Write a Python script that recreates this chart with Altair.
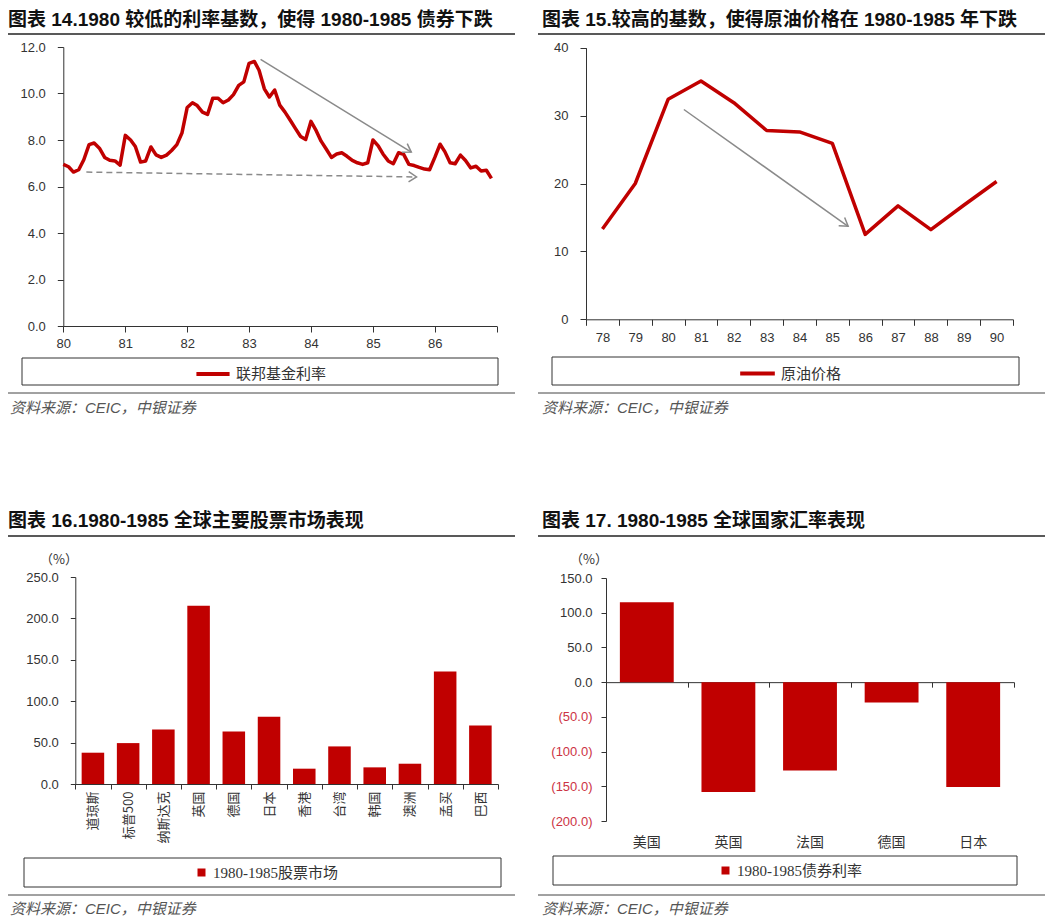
import altair as alt
import pandas as pd

RED = "#c00000"
NEG = "#cc3344"
GRAY = "#8a8a8a"
TXT = "#333333"
SANS = "Liberation Sans, Arial, Noto Sans CJK SC, sans-serif"
CJK = "Noto Sans CJK SC"
SERIF = "Liberation Serif, Noto Sans CJK SC"

# ---------------- data ----------------
fed_months = pd.date_range("1980-01-01", periods=84, freq="MS").strftime("%Y-%m-%d").tolist()
fed_rate = [6.95, 6.85, 6.62, 6.72, 7.15, 7.8, 7.87, 7.65, 7.25, 7.13, 7.1, 6.92,
            8.2, 8.0, 7.72, 7.05, 7.1, 7.7, 7.36, 7.25, 7.35, 7.55, 7.8, 8.3,
            9.4, 9.6, 9.48, 9.2, 9.1, 9.8, 9.8, 9.6, 9.72, 9.95, 10.35, 10.5,
            11.3, 11.38, 11.0, 10.2, 9.85, 10.15, 9.5, 9.2, 8.85, 8.5, 8.15, 8.02,
            8.8, 8.4, 7.95, 7.6, 7.25, 7.4, 7.45, 7.3, 7.12, 7.02, 6.95, 7.02,
            8.0, 7.75, 7.4, 7.1, 6.98, 7.45, 7.38, 6.95, 6.9, 6.82, 6.75, 6.72,
            7.25, 7.82, 7.5, 7.02, 6.98, 7.35, 7.12, 6.8, 6.87, 6.67, 6.7, 6.35]
fed_name = "联邦基金利率"
fed_tick_years = [1980, 1981, 1982, 1983, 1984, 1985, 1986, 1987]
fed_y_ticks = [0, 2, 4, 6, 8, 10, 12]
fed_arrow1_dates = ["1983-03-10", "1985-08-15"]
fed_arrow1_vals = [11.47, 7.48]
fed_arrow2_dates = ["1980-05-16", "1985-09-15"]
fed_arrow2_vals = [6.62, 6.41]

oil_years = ["78", "79", "80", "81", "82", "83", "84", "85", "86", "87", "88", "89", "90"]
oil_price = [13.3, 20.0, 32.4, 35.1, 31.9, 27.8, 27.6, 25.9, 12.5, 16.7, 13.2, 16.8, 20.3]
oil_name = "原油价格"
oil_y_ticks = [0, 10, 20, 30, 40]
oil_arrow_pos = [80.48, 85.48]
oil_arrow_vals = [30.9, 13.7]

stock_markets = ["道琼斯", "标普500", "纳斯达克", "英国", "德国", "日本", "香港", "台湾", "韩国", "澳洲", "孟买", "巴西"]
stock_returns = [37.8, 49.4, 65.9, 215.4, 63.5, 81.2, 18.5, 45.4, 20.1, 24.5, 135.9, 70.7]
stock_name = "1980-1985股票市场"
stock_y_ticks = [0, 50, 100, 150, 200, 250]

fx_countries = ["美国", "英国", "法国", "德国", "日本"]
fx_changes = [115.2, -158.4, -127.2, -29.3, -151.2]
fx_name = "1980-1985债券利率"
fx_y_ticks = [-200, -150, -100, -50, 0, 50, 100, 150]

titles = ["图表 14.1980 较低的利率基数，使得 1980-1985 债券下跌",
          "图表 15.较高的基数，使得原油价格在 1980-1985 年下跌",
          "图表 16.1980-1985 全球主要股票市场表现",
          "图表 17. 1980-1985 全球国家汇率表现"]
source_text = "资料来源：CEIC，中银证券"
unit_text = "（%）"

# ---------------- layout helpers ----------------
W, H = 1040, 912
DX, DY = 3, 6


def px(v):
    return v - DX


def py(v):
    return v - DY


def boff(yref):
    return py(yref) - H


def loff(xref):
    return -px(xref)


ONE = pd.DataFrame({"k": [0]})
CHEV = "M-1,-0.65L0,0L-1,0.65"


def text(t, x, y, size, weight="normal", style="normal", color=TXT, font=SANS):
    return alt.Chart(ONE).mark_text(text=t, align="left", baseline="middle", fontSize=size,
                                    fontWeight=weight, fontStyle=style, color=color,
                                    font=font).encode(x=alt.value(px(x)), y=alt.value(py(y)))


def hline(x1, x2, y, width=1.0, color="#333333"):
    return alt.Chart(ONE).mark_rule(color=color, strokeWidth=width).encode(
        x=alt.value(px(x1)), x2=alt.value(px(x2)), y=alt.value(py(y)))


def box(x1, x2, y1, y2):
    return alt.Chart(ONE).mark_rect(fill="white", fillOpacity=0, stroke="#333333", strokeWidth=1).encode(
        x=alt.value(px(x1)), x2=alt.value(px(x2)), y=alt.value(py(y1)), y2=alt.value(py(y2)))


def dt(y, m=1, d=1):
    return alt.DateTime(year=y, month=m, date=d, utc=True)


layers = []

# ---------------- panel 1: fed funds ----------------
fed_df = pd.DataFrame({"date": fed_months, "rate": fed_rate, "series": fed_name})
fed_x = alt.Scale(type="utc", domain=[dt(1980), dt(1987)], range=[px(58.3), px(491.7)], nice=False)
fed_y = alt.Scale(domain=[0, 12], range=[py(324), py(45)], nice=False, zero=False)

layers.append(alt.Chart(fed_df).mark_line(strokeWidth=3.5, strokeJoin="round").encode(
    x=alt.X("date:T", scale=fed_x, axis=alt.Axis(
        orient="bottom", offset=boff(324), values=[dt(y) for y in fed_tick_years],
        labelExpr="utcyear(datum.value) >= 1987 ? '' : utcFormat(datum.value, '%y')",
        tickSize=6, labelPadding=5, title=None, labelFlush=False, labelOverlap=False)),
    y=alt.Y("rate:Q", scale=fed_y, axis=alt.Axis(
        orient="left", offset=loff(58.3), values=fed_y_ticks, format=".1f",
        tickSize=6, labelPadding=12, title=None)),
    color=alt.Color("series:N", scale=alt.Scale(range=[RED]), legend=alt.Legend(
        orient="none", legendX=px(189), legendY=py(353), title=None, symbolType="stroke",
        symbolSize=1100, symbolStrokeWidth=4, labelFont=SERIF, labelFontSize=15,
        labelColor=TXT, padding=0, labelOffset=4))))

a1 = pd.DataFrame({"date": fed_arrow1_dates, "v": fed_arrow1_vals})
a2 = pd.DataFrame({"date": fed_arrow2_dates, "v": fed_arrow2_vals})
for df, dash, ang in [(a1, None, 31.6), (a2, [6, 4], 0.9)]:
    kw = dict(color=GRAY, strokeWidth=1.5)
    if dash:
        kw["strokeDash"] = dash
    enc = dict(x=alt.X("date:T", scale=fed_x, axis=None), y=alt.Y("v:Q", scale=fed_y, axis=None))
    layers.append(alt.Chart(df).mark_line(**kw).encode(**enc))
    layers.append(alt.Chart(df.iloc[[1]]).mark_point(shape=CHEV, filled=False, size=250, strokeWidth=1.5,
                                                      color=GRAY, opacity=1, angle=ang).encode(**enc))

# ---------------- panel 2: oil ----------------
oil_df = pd.DataFrame({"year": oil_years, "price": oil_price, "series": oil_name})
oil_x = alt.Scale(type="band", domain=oil_years, range=[px(581), px(1008)], paddingInner=0, paddingOuter=0)
oil_y = alt.Scale(domain=[0, 40], range=[py(317.3), py(45.7)], nice=False, zero=False)
layers.append(alt.Chart(oil_df).mark_line(strokeWidth=3.5, strokeJoin="round").encode(
    x=alt.X("year:O", scale=oil_x, sort=oil_years, axis=alt.Axis(
        orient="bottom", offset=boff(317.3), tickBand="extent", tickSize=6, labelPadding=6,
        labelAngle=0, title=None)),
    y=alt.Y("price:Q", scale=oil_y, axis=alt.Axis(
        orient="left", offset=loff(581), values=oil_y_ticks, format="d", tickSize=6,
        labelPadding=12, title=None)),
    color=alt.Color("series:N", scale=alt.Scale(range=[RED]), legend=alt.Legend(
        orient="none", legendX=px(733), legendY=py(352), title=None, symbolType="stroke",
        symbolSize=1200, symbolStrokeWidth=4, labelFont=SERIF, labelFontSize=15,
        labelColor=TXT, padding=0, labelOffset=4))))

oil_arrow_x = alt.Scale(domain=[77.5, 90.5], range=[px(581), px(1008)], nice=False, zero=False)
a3 = pd.DataFrame({"pos": oil_arrow_pos, "v": oil_arrow_vals})
enc3 = dict(x=alt.X("pos:Q", scale=oil_arrow_x, axis=None), y=alt.Y("v:Q", scale=oil_y, axis=None))
layers.append(alt.Chart(a3).mark_line(color=GRAY, strokeWidth=1.5).encode(**enc3))
layers.append(alt.Chart(a3.iloc[[1]]).mark_point(shape=CHEV, filled=False, size=250, strokeWidth=1.5,
                                                  color=GRAY, opacity=1, angle=35.5).encode(**enc3))

# ---------------- panel 3: stock markets ----------------
st_df = pd.DataFrame({"market": stock_markets, "ret": stock_returns, "series": stock_name})
st_x = alt.Scale(type="band", domain=stock_markets, range=[px(70.3), px(493)], paddingInner=0, paddingOuter=0)
st_y = alt.Scale(domain=[0, 250], range=[py(782), py(575)], nice=False)
layers.append(alt.Chart(st_df).mark_bar(width=alt.RelativeBandSize(0.64)).encode(
    x=alt.X("market:N", scale=st_x, sort=stock_markets, axis=alt.Axis(
        orient="bottom", offset=boff(782), tickBand="extent", tickSize=5, labelPadding=2,
        labelAngle=270, labelFont=CJK, labelFontSize=13, title=None)),
    y=alt.Y("ret:Q", scale=st_y, axis=alt.Axis(
        orient="left", offset=loff(70.3), values=stock_y_ticks, format=".1f", tickSize=5,
        labelPadding=12, title=None)),
    color=alt.Color("series:N", scale=alt.Scale(range=[RED]), legend=alt.Legend(
        orient="none", legendX=px(189), legendY=py(863), title=None, symbolType="square",
        symbolSize=64, symbolStrokeWidth=0, labelFont=SERIF, labelFontSize=15,
        labelColor=TXT, padding=0, labelOffset=4))))

# ---------------- panel 4: fx ----------------
fx_df = pd.DataFrame({"country": fx_countries, "chg": fx_changes, "series": fx_name})
fx_x = alt.Scale(type="band", domain=fx_countries, range=[px(601), px(1009)], paddingInner=0, paddingOuter=0)
fx_y = alt.Scale(domain=[-200, 150], range=[py(819), py(576)], nice=False)
fx_zero_y = 819 - (819 - 576) * 200 / 350
layers.append(alt.Chart(fx_df).mark_bar(width=alt.RelativeBandSize(0.66)).encode(
    x=alt.X("country:N", scale=fx_x, sort=fx_countries, axis=alt.Axis(
        orient="bottom", offset=boff(fx_zero_y), tickBand="extent", tickSize=5, labels=False,
        title=None)),
    y=alt.Y("chg:Q", scale=fx_y, axis=alt.Axis(
        orient="left", offset=loff(601), values=fx_y_ticks, tickSize=5, labelPadding=9,
        labelExpr="datum.value < 0 ? '(' + format(-datum.value, '.1f') + ')' : format(datum.value, '.1f')",
        labelColor={"condition": {"test": "datum.value < 0", "value": NEG}, "value": TXT},
        title=None)),
    color=alt.Color("series:N", scale=alt.Scale(range=[RED]), legend=alt.Legend(
        orient="none", legendX=px(713), legendY=py(861), title=None, symbolType="square",
        symbolSize=64, symbolStrokeWidth=0, labelFont=SERIF, labelFontSize=15,
        labelColor=TXT, padding=0, labelOffset=4))))
layers.append(alt.Chart(fx_df).mark_bar(opacity=0, width=alt.RelativeBandSize(0.66)).encode(
    x=alt.X("country:N", scale=fx_x, sort=fx_countries, axis=alt.Axis(
        orient="bottom", offset=boff(819), ticks=False, tickSize=0, domain=False,
        labelPadding=14, labelAngle=0, labelFont=CJK, labelFontSize=14, title=None)),
    y=alt.Y("chg:Q", scale=fx_y, axis=None)))

# ---------------- decorations ----------------
for (tx, ty), t in zip([(3, 18), (537, 18), (3, 519), (537, 519)], titles):
    layers.append(text(t, tx, ty, 19, weight="bold", color="#111111"))
for tx, ty in [(5, 406), (537, 406), (5, 907), (537, 907)]:
    layers.append(text(source_text, tx, ty, 15, style="italic", color="#555555"))
layers.append(text(unit_text, 35, 558, 13, font=CJK))
layers.append(text(unit_text, 565, 558, 13, font=CJK))
for x1, x2, y in [(0, 510, 32), (533, 1040, 32), (0, 510, 534), (533, 1040, 534)]:
    layers.append(hline(x1, x2, y, 1.5, "#222222"))
for x1, x2, y in [(0, 510, 391), (533, 1040, 391), (0, 510, 893), (533, 1040, 893)]:
    layers.append(hline(x1, x2, y, 1.0, "#444444"))
for x1, x2, y1, y2 in [(17, 493, 356, 383), (547, 1014, 355, 383), (19, 496, 856, 885), (548, 1012, 854, 883)]:
    layers.append(box(x1, x2, y1, y2))

chart = alt.layer(*layers).resolve_scale(
    x="independent", y="independent", color="independent"
).resolve_axis(x="independent", y="independent").resolve_legend(color="independent").properties(
    width=W, height=H, autosize=alt.AutoSizeParams(type="none"), padding=0
).configure_view(stroke=None).configure_axis(
    grid=False, labelFont=SANS, labelFontSize=13, labelColor=TXT,
    domainColor="#333333", tickColor="#333333", domainWidth=1, tickWidth=1
)

chart.save("out.html", embed_options={"renderer": "svg", "actions": False})
